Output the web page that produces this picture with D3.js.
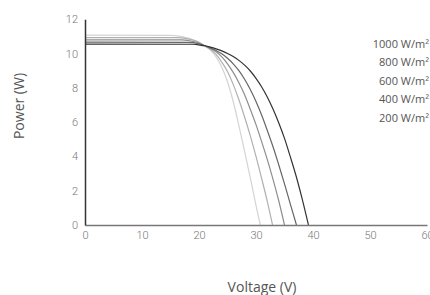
<!DOCTYPE html>
<html>
<head>
<meta charset="utf-8">
<script src="https://cdn.jsdelivr.net/npm/d3@7/dist/d3.min.js"></script>
<style>
html,body{margin:0;padding:0;background:#fff;}
svg{display:block;}
</style>
</head>
<body>
<svg id="chart" width="430" height="295"></svg>
<script>
const xTicks = [0, 10, 20, 30, 40, 50, 60];
const yTicks = [0, 2, 4, 6, 8, 10, 12];
const legendLabels = ["1000 W/m²", "800 W/m²", "600 W/m²", "400 W/m²", "200 W/m²"];

const v200  = [[0,11.07],[15,11.06],[17,10.98],[19,10.8],[20,10.65],[21,10.45],[22,10.2],[23,9.8],[24,9.2],[25,8.35],[26,7.2],[27,5.8],[28,4.3],[29,2.75],[30,1.15],[30.75,0]];
const v400  = [[0,10.93],[16,10.92],[18,10.85],[20,10.65],[21,10.45],[22,10.25],[23,9.95],[24,9.5],[25,8.95],[26,8.2],[27,7.3],[28,6.3],[29,5.2],[30,4.0],[31,2.7],[32,1.35],[32.9,0]];
const v600  = [[0,10.8],[17,10.79],[19,10.7],[20,10.6],[21,10.45],[22,10.3],[23,10.1],[24,9.8],[25,9.4],[26,8.9],[27,8.3],[28,7.6],[29,6.75],[30,5.85],[31,4.85],[32,3.8],[33,2.65],[34,1.4],[35,0]];
const v800  = [[0,10.66],[18,10.65],[20,10.57],[21,10.45],[22,10.33],[23,10.18],[24,9.98],[25,9.72],[26,9.4],[27,9.0],[28,8.5],[29,7.9],[30,7.2],[31,6.4],[32,5.5],[33,4.55],[34,3.5],[35,2.4],[36,1.25],[37.1,0]];
const v1000 = [[0,10.55],[19,10.54],[20,10.5],[21,10.45],[22,10.37],[23,10.27],[24,10.15],[25,10.0],[26,9.82],[27,9.6],[28,9.32],[29,8.98],[30,8.55],[31,8.05],[32,7.45],[33,6.75],[34,5.95],[35,5.05],[36,4.0],[37,2.9],[38,1.65],[39.2,0]];

const series = [
  {name: "200",  values: v200,  color: "#d4d4d4"},
  {name: "400",  values: v400,  color: "#b0b0b0"},
  {name: "600",  values: v600,  color: "#8e8e8e"},
  {name: "800",  values: v800,  color: "#666666"},
  {name: "1000", values: v1000, color: "#333333"}
];

const svg = d3.select("#chart");
const x = d3.scaleLinear().domain([0, 60]).range([85, 427]);
const y = d3.scaleLinear().domain([0, 12]).range([225, 19.2]);

const tickFont = "'Roboto', 'DejaVu Sans Condensed', sans-serif";
const labelFont = "'Open Sans', 'Lato', sans-serif";

// curves
const line = d3.line().x(d => x(d[0])).y(d => y(d[1])).curve(d3.curveMonotoneX);
svg.append("g").selectAll("path").data(series).join("path")
  .attr("d", d => line(d.values))
  .attr("fill", "none")
  .attr("stroke", d => d.color)
  .attr("stroke-width", 1.2);

// x axis
const xAxis = d3.axisBottom(x).tickValues(xTicks).tickSize(0).tickPadding(6).tickFormat(d3.format("d"));
const gx = svg.append("g").attr("transform", `translate(0,${y(0)})`).call(xAxis);
gx.select(".domain").attr("stroke", "#777").attr("stroke-width", 1.5);
gx.selectAll("text").attr("fill", "#777").style("font-family", tickFont).style("font-size", "11px").style("font-weight", "300");

// y axis
const yAxis = d3.axisLeft(y).tickValues(yTicks).tickSize(0).tickPadding(7).tickFormat(d3.format("d"));
const gy = svg.append("g").attr("transform", `translate(${x(0)},0)`).call(yAxis);
gy.select(".domain").attr("stroke", "#333").attr("stroke-width", 1.5);
gy.selectAll("text").attr("fill", "#777").style("font-family", tickFont).style("font-size", "11px").style("font-weight", "300");

// legend
svg.append("g").selectAll("text").data(legendLabels).join("text")
  .attr("x", 429)
  .attr("y", (d, i) => 47.5 + i * 18.6)
  .attr("text-anchor", "end")
  .attr("fill", "#555")
  .style("font-family", labelFont)
  .style("font-size", "11px")
  .text(d => d);

// axis titles
svg.append("text")
  .attr("x", 262).attr("y", 292)
  .attr("text-anchor", "middle")
  .attr("fill", "#555")
  .style("font-family", labelFont)
  .style("font-size", "14px")
  .text("Voltage (V)");

svg.append("text")
  .attr("transform", "translate(24,106) rotate(-90)")
  .attr("text-anchor", "middle")
  .attr("fill", "#555")
  .style("font-family", labelFont)
  .style("font-size", "14px")
  .text("Power (W)");
</script>
</body>
</html>
